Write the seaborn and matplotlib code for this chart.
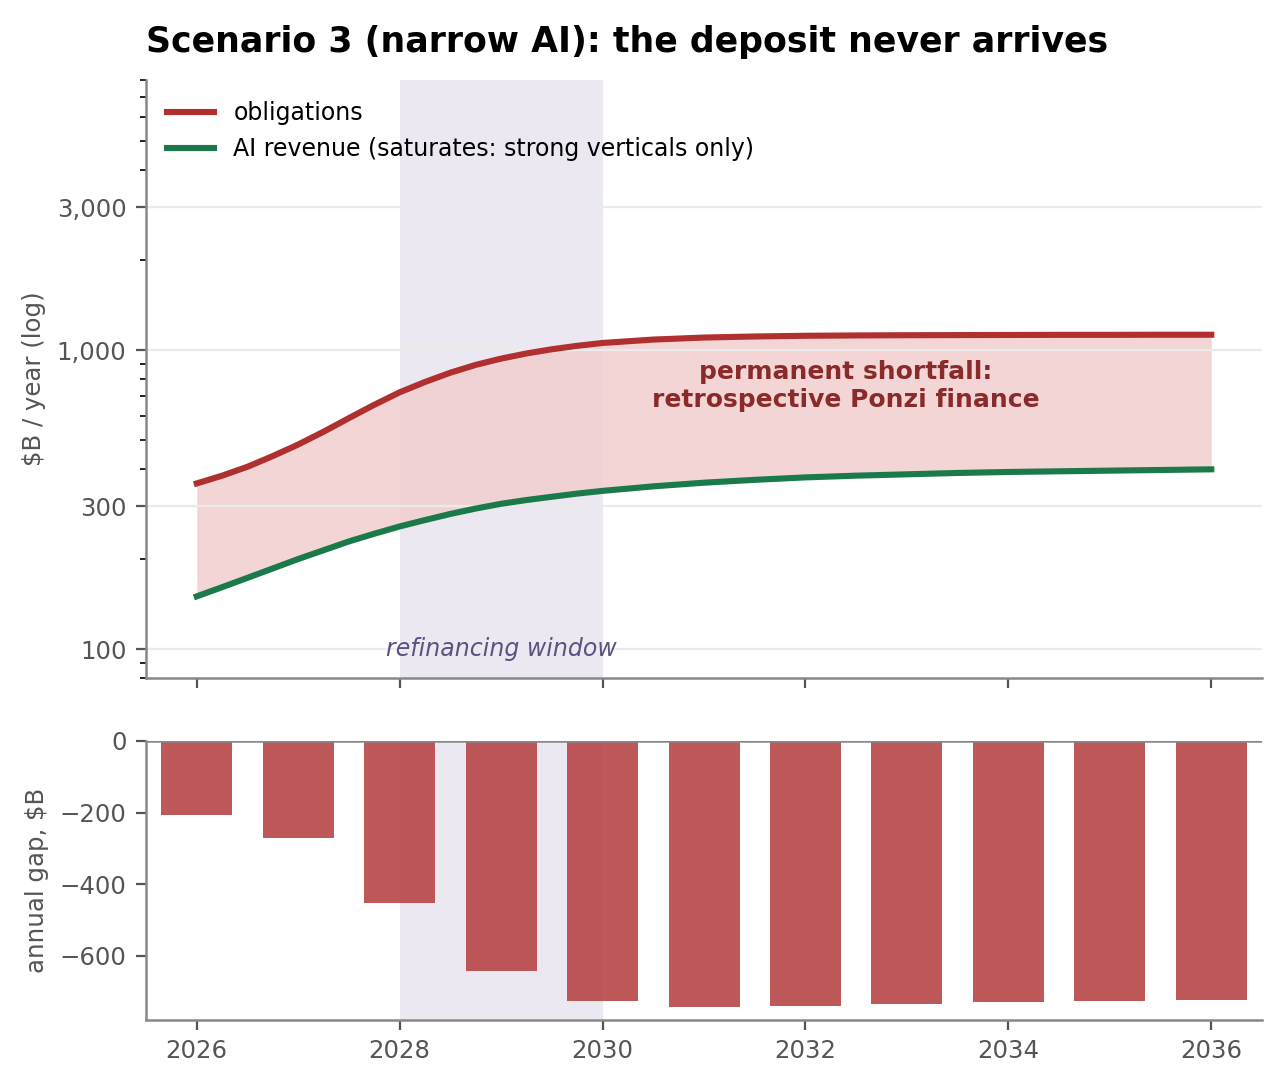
import numpy as np
import pandas as pd
import matplotlib
matplotlib.use("Agg")
import matplotlib.pyplot as plt
import seaborn as sns
from matplotlib.ticker import FixedLocator, FuncFormatter, NullFormatter

# values
# quarter-year steps through the steep part, half-year after 2030
years = [2026, 2026.25, 2026.5, 2026.75, 2027, 2027.25, 2027.5, 2027.75,
         2028, 2028.25, 2028.5, 2028.75, 2029, 2029.25, 2029.5, 2029.75,
         2030, 2030.5, 2031, 2031.5, 2032, 2032.5, 2033, 2033.5, 2034,
         2034.5, 2035, 2035.5, 2036]
obligations = [358, 380, 407, 442, 483, 533, 592, 656,
               722, 782, 840, 892, 936, 974, 1006, 1033,
               1056, 1084, 1101, 1110, 1116, 1119, 1121, 1122, 1123,
               1124, 1124, 1125, 1125]
revenue = [150, 161, 173, 186, 200, 214, 229, 243,
           257, 270, 283, 295, 306, 315, 323, 331,
           338, 350, 360, 368, 375, 380, 384, 388, 391,
           393, 395, 397, 399]

bar_years = list(range(2026, 2037))
annual_gap = [-208, -271, -453, -642, -726, -743, -740, -735, -730, -727, -724]

y_ticks_top = [100, 300, 1000, 3000]
y_ticks_bottom = [0, -200, -400, -600]
x_ticks = list(range(2026, 2037, 2))

RED = '#b03030'
GREEN = '#1a7a4a'
GREY = '#555555'
SPINE = '#888888'

plt.rcParams['font.family'] = ['DejaVu Sans']

curves = pd.DataFrame({'year': years, 'obligations': obligations, 'revenue': revenue})
gaps = pd.DataFrame({'year': bar_years, 'gap': annual_gap})

fig, (ax, ax2) = plt.subplots(
    2, 1, figsize=(6.41, 5.415), dpi=200, sharex=True,
    gridspec_kw={'height_ratios': [598, 279], 'hspace': 0.1437}
)
fig.subplots_adjust(left=0.1139, right=0.9844, top=0.9261, bottom=0.0582)

for a in (ax, ax2):
    a.axvspan(2028, 2030, color='#7b68a6', alpha=0.15, lw=0, zorder=0)

# --- top panel: obligations vs revenue
ax.fill_between(curves['year'], curves['revenue'], curves['obligations'],
                color='#f2d0d0', alpha=0.88, lw=0)
sns.lineplot(data=curves, x='year', y='obligations', ax=ax, color=RED,
             lw=2.2, label='obligations')
sns.lineplot(data=curves, x='year', y='revenue', ax=ax, color=GREEN,
             lw=2.2, label='AI revenue (saturates: strong verticals only)')

ax.set_yscale('log')
ax.set_ylim(80, 8000)
ax.yaxis.set_major_locator(FixedLocator(y_ticks_top))
ax.yaxis.set_major_formatter(FuncFormatter(lambda v, p: f'{v:,.0f}'))
ax.yaxis.set_minor_formatter(NullFormatter())
ax.grid(axis='y', which='major', color='#ebebeb', lw=0.8)
ax.set_axisbelow('line')

ax.text(2032.4, 757, 'permanent shortfall:\nretrospective Ponzi finance',
        ha='center', va='center', fontsize=9, fontweight='bold', color='#8b2a2a')
ax.text(2029, 100, 'refinancing window', ha='center', va='center',
        fontsize=8.5, style='italic', color='#5e5080')

ax.legend(loc='upper left', frameon=False, fontsize=8.5)
ax.set_xlabel('')
ax.set_ylabel('$B / year (log)', fontsize=8.8, color=GREY)
ax.set_title('Scenario 3 (narrow AI): the deposit never arrives',
             loc='left', fontsize=12.5, fontweight='bold', pad=10)

# --- bottom panel: annual gap
sns.barplot(data=gaps, x='year', y='gap', ax=ax2, native_scale=True,
            orient='x', width=0.7, color=RED, alpha=0.8, saturation=1)
ax2.axhline(0, color=SPINE, lw=0.9)
ax2.set_ylim(min(annual_gap) * 1.05, 0)
ax2.set_yticks(y_ticks_bottom)
ax2.set_xlabel('')
ax2.set_ylabel('annual gap, $B', fontsize=8.8, color=GREY)

ax2.set_xlim(2025.5, 2036.5)
ax2.set_xticks(x_ticks)
ax2.set_xticklabels([str(t) for t in x_ticks])
ax.tick_params(axis='x', labelbottom=False)

for a in (ax, ax2):
    a.tick_params(axis='both', which='major', colors=GREY, labelsize=8.8)
    for side in ('top', 'right'):
        a.spines[side].set_visible(False)
    for side in ('left', 'bottom'):
        a.spines[side].set_color(SPINE)
        a.spines[side].set_linewidth(0.9)

fig.savefig('out.png', dpi=200)
